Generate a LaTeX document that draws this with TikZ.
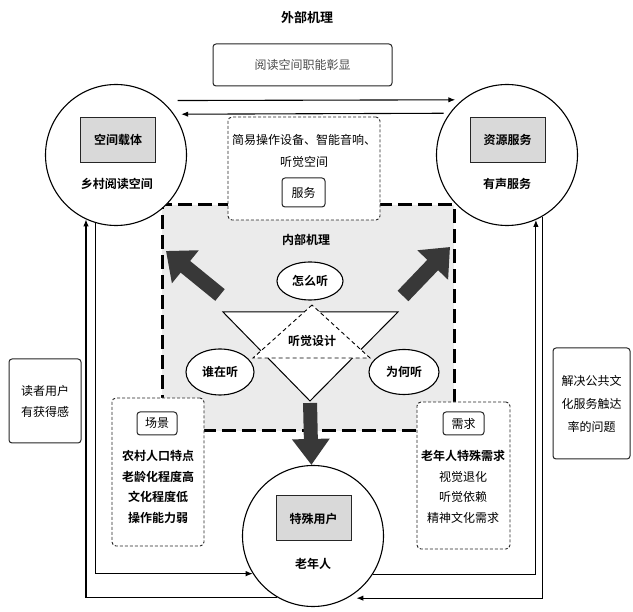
\documentclass[tikz,border=0pt]{standalone}
\usepackage{fontspec}
\setmainfont{Noto Sans CJK SC}[BoldFont={Noto Sans CJK SC Bold}]
\usetikzlibrary{shapes.geometric,arrows.meta}

\tikzstyle{every node}=[inner sep=0pt, align=center, font={\fontsize{12}{14}\selectfont}]
\tikzstyle{hd}=[font={\fontsize{12}{14}\selectfont\bfseries}]
\tikzstyle{ring}=[circle, draw, line width=1.1pt, fill=white, minimum size=141pt]
\tikzstyle{greytag}=[hd, draw=black!85, line width=1pt, fill=black!15, minimum width=75pt, minimum height=45pt]
\tikzstyle{plainbox}=[draw=black!85, line width=1pt, rounded corners=3pt, fill=white]
\tikzstyle{dashbox}=[draw=black!85, line width=0.9pt, dash pattern=on 3pt off 2pt, rounded corners=4pt, fill=white]
\tikzstyle{oval}=[hd, ellipse, draw, line width=1.1pt, fill=white]
\tikzstyle{link}=[line width=1.1pt, -{Latex[length=7pt,width=5.5pt]}]
\tikzstyle{fatarrow}=[line width=15pt, black!78, -{Triangle[length=25pt,width=41pt]}]

\begin{document}
\begin{tikzpicture}[x=1pt,y=-1pt]
    \fill[white] (0,0) rectangle (633,612);
    \useasboundingbox (0,0) rectangle (633,612);

    \node [draw, line width=3pt, dash pattern=on 14pt off 6pt, fill=black!8, minimum width=292pt, minimum height=226pt] (inner) at (308,318) {};
    \node [hd] (innertitle) at (306,240) {内部机理};

    \node [dashbox, minimum width=152pt, minimum height=103pt] (svc) at (304,168.5) {};
    \node [font={\fontsize{12}{22}\selectfont}] (svctext) at (304,151) {简易操作设备、智能音响、\\听觉空间};
    \node [plainbox, minimum width=43pt, minimum height=29pt] (svctag) at (303.5,192.5) {服务};

    \node [hd, font={\fontsize{13}{15}\selectfont\bfseries}] (title) at (307,18) {外部机理};
    \node [plainbox, minimum width=179pt, minimum height=42pt, text=black!70] (show) at (302.5,65) {阅读空间职能彰显};

    \node [ring] (lc) at (116,155) {};
    \node [greytag] (lctag) at (118,140) {空间载体};
    \node [hd] (lcname) at (117,184) {乡村阅读空间};

    \node [ring] (rc) at (507,155) {};
    \node [greytag] (rctag) at (507.5,140) {资源服务};
    \node [hd] (rcname) at (507,184) {有声服务};

    \node [ring] (bc) at (313,536) {};
    \node [greytag] (bctag) at (313.5,518.5) {特殊用户};
    \node [hd] (bcname) at (313,564) {老年人};

    \draw [link, shorten <=16pt, shorten >=7pt] (lc.50.8) -- (rc.129.2);
    \draw [link, shorten <=6pt, shorten >=7pt] (rc.144.7) -- (lc.35.3);

    \coordinate (tl) at (223,312);
    \coordinate (tr) at (398,312);
    \coordinate (tb) at (310,401);
    \coordinate (dt) at (312,305);
    \coordinate (dl) at (253,358);
    \coordinate (dr) at (370,358);
    \draw [fatarrow, line width=14pt, -{Triangle[length=26pt,width=36pt]}, shorten <=2pt] (tb) -- (bc);
    \filldraw [fill=white, line width=1pt] (tl) -- (tr) -- (tb) -- cycle;
    \filldraw [fill=white, line width=0.9pt, dash pattern=on 4pt off 3pt] (dt) -- (dl) -- (dr) -- cycle;
    \node [hd] (design) at (312,341) {听觉设计};

    \node [oval, minimum width=66pt, minimum height=38pt] (how) at (310,281) {怎么听};
    \node [oval, minimum width=68pt, minimum height=46pt] (who) at (220,372) {谁在听};
    \node [oval, minimum width=70pt, minimum height=45pt] (why) at (404,372) {为何听};

    \coordinate (lfoot) at (220,295);
    \coordinate (lhead) at (166,251);
    \coordinate (rfoot) at (403,296);
    \coordinate (rhead) at (450,247);
    \draw [fatarrow] (lfoot) -- (lhead);
    \draw [fatarrow] (rfoot) -- (rhead);

    \node [dashbox, minimum width=92pt, minimum height=148pt] (scene) at (158,472) {};
    \node [plainbox, minimum width=40pt, minimum height=23pt] (scenetag) at (157,423.5) {场景};
    \node [font={\fontsize{12}{20.5}\selectfont\bfseries}] (scenetext) at (158,487) {农村人口特点\\老龄化程度高\\文化程度低\\操作能力弱};

    \node [dashbox, minimum width=93pt, minimum height=147pt] (need) at (463.5,475.5) {};
    \node [plainbox, minimum width=41pt, minimum height=23pt] (needtag) at (463.5,423.5) {需求};
    \node [font={\fontsize{12}{20.5}\selectfont}] (needtext) at (463,487) {{\bfseries 老年人特殊需求}\\视觉退化\\听觉依赖\\精神文化需求};

    \node [plainbox, minimum width=72pt, minimum height=84pt, font={\fontsize{12}{21}\selectfont}] (gain) at (45,401) {读者用户\\有获得感};
    \node [plainbox, minimum width=77pt, minimum height=111pt, font={\fontsize{12}{23}\selectfont}] (reach) at (591.5,403.5) {解决公共文\\化服务触达\\率的问题};

    \draw [link] (bc.240.6) -| (lc.245.9);
    \draw [link] (lc.253.6) |- (bc.212.9);
    \draw [link] (bc.327.9) -| (rc.294.1);
    \draw [link, shorten >=9pt] (rc.300.5) |- (bc.299.4);
\end{tikzpicture}
\end{document}
